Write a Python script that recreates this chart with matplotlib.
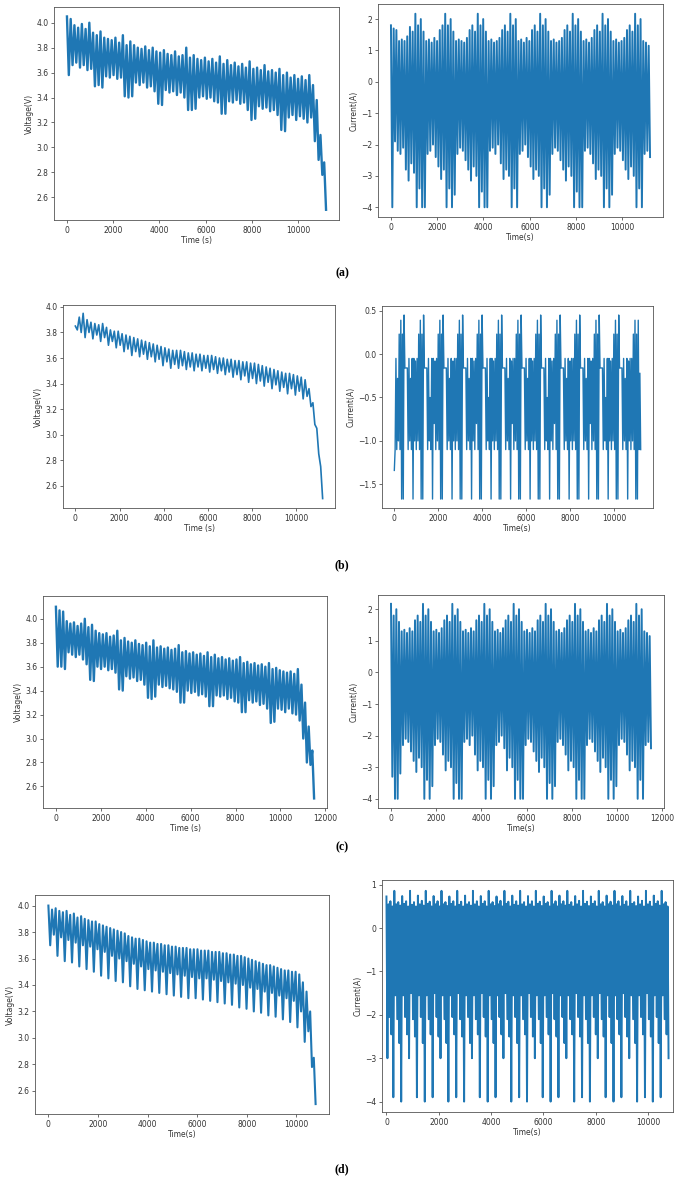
import numpy as np
import matplotlib
matplotlib.use("Agg")
import matplotlib.pyplot as plt

FIG_W, FIG_H = 689, 1181
BLUE = '#1f77b4'

# each trace is stored as upper / lower excursions in time order
# (a)
t_end_a = 11200
volt_a_hi = [4.05, 4.03, 3.98, 3.96, 3.99, 3.95, 4.00, 3.92, 3.90, 3.93,
             3.88, 3.87, 3.86, 3.88, 3.84, 3.90, 3.82, 3.85, 3.82, 3.80,
             3.79, 3.81, 3.78, 3.80, 3.77, 3.76, 3.78, 3.75, 3.74, 3.77,
             3.73, 3.74, 3.80, 3.72, 3.74, 3.71, 3.70, 3.72, 3.69, 3.71,
             3.68, 3.73, 3.67, 3.70, 3.66, 3.68, 3.65, 3.67, 3.64, 3.69,
             3.63, 3.64, 3.62, 3.66, 3.61, 3.62, 3.60, 3.63, 3.58, 3.60,
             3.56, 3.58, 3.55, 3.57, 3.54, 3.58, 3.50, 3.38, 3.10, 2.88]
volt_a_lo = [3.58, 3.66, 3.68, 3.64, 3.66, 3.62, 3.63, 3.49, 3.50, 3.48,
             3.57, 3.56, 3.58, 3.55, 3.56, 3.41, 3.40, 3.41, 3.52, 3.50,
             3.52, 3.48, 3.49, 3.45, 3.35, 3.34, 3.46, 3.44, 3.45, 3.42,
             3.44, 3.40, 3.30, 3.30, 3.31, 3.40, 3.41, 3.39, 3.40, 3.37,
             3.36, 3.27, 3.27, 3.37, 3.36, 3.38, 3.35, 3.36, 3.30, 3.22,
             3.23, 3.33, 3.31, 3.32, 3.29, 3.30, 3.26, 3.14, 3.13, 3.24,
             3.26, 3.22, 3.25, 3.23, 3.20, 3.24, 3.05, 2.90, 2.78, 2.50]
curr_a_hi = [1.80, 1.70, 1.65, 1.30, 1.35, 1.30, 1.45, 1.75, 1.60, 2.17,
             1.80, 2.00, 1.60, 1.30, 1.35, 1.25, 1.40, 1.30, 1.65, 1.80,
             2.17, 1.80, 2.00, 1.60, 1.30, 1.35, 1.30, 1.25, 1.40, 1.65,
             1.80, 1.60, 2.17, 1.80, 2.00, 1.60, 1.30, 1.35, 1.25, 1.30,
             1.40, 1.65, 1.80, 1.60, 2.17, 1.80, 2.00, 1.30, 1.35, 1.25,
             1.40, 1.30, 1.65, 1.80, 1.60, 2.17, 1.80, 2.00, 1.60, 1.30,
             1.35, 1.25, 1.30, 1.40, 1.65, 1.80, 1.60, 2.17, 1.80, 2.00,
             1.60, 1.30, 1.35, 1.25, 1.40, 1.65, 1.80, 1.60, 2.17, 1.80,
             2.00, 1.60, 1.30, 1.35, 1.25, 1.30, 1.40, 1.65, 1.80, 1.60,
             2.17, 1.80, 2.00, 1.30, 1.25, 1.15]
curr_a_lo = [-4.00, -1.90, -2.20, -2.30, -2.10, -2.80, -3.15, -2.60, -2.90, -4.00,
             -3.40, -4.00, -4.00, -2.30, -2.20, -2.00, -2.40, -2.70, -3.10, -2.80,
             -4.00, -3.40, -4.00, -3.60, -2.30, -2.10, -2.20, -2.50, -2.80, -3.15,
             -2.70, -3.00, -4.00, -3.50, -4.00, -4.00, -2.20, -2.10, -2.30, -2.00,
             -2.60, -3.10, -2.80, -3.00, -4.00, -3.40, -4.00, -2.30, -2.20, -2.00,
             -2.40, -2.70, -3.10, -2.80, -3.00, -4.00, -3.40, -4.00, -3.60, -2.30,
             -2.10, -2.20, -2.50, -2.80, -3.15, -2.70, -3.00, -4.00, -3.50, -4.00,
             -4.00, -2.20, -2.10, -2.30, -2.60, -3.10, -2.80, -3.00, -4.00, -3.40,
             -4.00, -3.60, -2.30, -2.10, -2.20, -2.50, -2.80, -3.10, -2.70, -3.00,
             -4.00, -3.40, -4.00, -2.30, -2.20, -2.40]

# (b)
t_end_b = 11200
volt_b_hi = [3.85, 3.92, 3.95, 3.90, 3.88, 3.87, 3.86, 3.87, 3.84, 3.82,
             3.81, 3.81, 3.79, 3.78, 3.77, 3.76, 3.75, 3.74, 3.73, 3.72,
             3.71, 3.70, 3.69, 3.68, 3.67, 3.66, 3.66, 3.66, 3.65, 3.64,
             3.64, 3.63, 3.63, 3.62, 3.62, 3.62, 3.61, 3.60, 3.60, 3.59,
             3.59, 3.58, 3.58, 3.57, 3.57, 3.56, 3.56, 3.55, 3.54, 3.53,
             3.52, 3.51, 3.50, 3.49, 3.48, 3.48, 3.47, 3.46, 3.45, 3.43,
             3.36, 3.25, 3.05, 2.75]
volt_b_lo = [3.82, 3.80, 3.76, 3.80, 3.75, 3.78, 3.73, 3.76, 3.70, 3.73,
             3.68, 3.70, 3.65, 3.67, 3.62, 3.65, 3.61, 3.63, 3.59, 3.61,
             3.57, 3.59, 3.54, 3.57, 3.52, 3.55, 3.52, 3.54, 3.51, 3.53,
             3.50, 3.53, 3.50, 3.52, 3.49, 3.51, 3.48, 3.50, 3.47, 3.49,
             3.45, 3.47, 3.43, 3.46, 3.41, 3.44, 3.40, 3.42, 3.38, 3.41,
             3.36, 3.39, 3.34, 3.37, 3.32, 3.36, 3.31, 3.34, 3.28, 3.30,
             3.22, 3.08, 2.85, 2.50]
curr_b_hi = [-1.34, -0.05, -0.28, 0.23, 0.39, 0.23,
             0.45, -0.16, -0.16, -0.05, -0.28, -0.05, -0.05, -0.08, -0.05, 0.23, 0.39, 0.23,
             0.45, -0.16, -0.16, -0.05, -0.50, -0.05, -0.05, -0.08, -0.05, 0.23, 0.39, 0.23,
             0.45, -0.16, -0.16, -0.05, -0.28, -0.05, -0.08, -0.05, -0.05, 0.23, 0.39, 0.23,
             0.45, -0.16, -0.16, -0.05, -0.28, -0.05, -0.05, -0.08, -0.05, 0.23, 0.39, 0.23,
             0.45, -0.16, -0.16, -0.05, -0.50, -0.05, -0.05, -0.08, -0.05, 0.23, 0.39, 0.23,
             0.45, -0.16, -0.16, -0.05, -0.28, -0.05, -0.08, -0.05, -0.05, 0.23, 0.39, 0.23,
             0.45, -0.16, -0.16, -0.05, -0.28, -0.05, -0.05, -0.08, -0.05, 0.23, 0.39, 0.23,
             0.45, -0.16, -0.16, -0.05, -0.50, -0.05, -0.05, -0.08, -0.05, 0.23, 0.39, 0.23,
             0.45, -0.16, -0.16, -0.05, -0.28, -0.05, -0.08, -0.05, -0.05, 0.23, 0.39, 0.23,
             0.45, -0.16, -0.16, -0.05, -0.28, -0.05, -0.05, -0.08, -0.05, 0.23, 0.39, 0.23,
             0.45, -0.16, -0.16, -0.05, -0.50, -0.05, -0.05, -0.08, -0.05, 0.23, 0.39, 0.23,
             0.45, -0.16, -0.16, -0.05, -0.28, -0.05, -0.08, -0.05, -0.05, 0.23, 0.39, 0.23,
             0.39, -0.22]
curr_b_lo = [-1.10, -1.10, -1.00, -1.10, -1.67, -1.67,
             -0.16, -0.16, -1.10, -1.00, -1.10, -1.67, -1.00, -1.10, -1.00, -1.10, -1.67, -1.67,
             -0.16, -0.16, -1.10, -1.00, -1.10, -1.67, -0.80, -1.10, -1.00, -1.10, -1.67, -1.67,
             -0.16, -0.16, -1.10, -1.00, -1.10, -1.67, -1.00, -1.10, -1.00, -1.10, -1.67, -1.67,
             -0.16, -0.16, -1.10, -1.00, -1.10, -1.67, -1.00, -1.10, -0.80, -1.10, -1.67, -1.67,
             -0.16, -0.16, -1.10, -1.00, -1.10, -1.67, -1.00, -1.10, -1.00, -1.10, -1.67, -1.67,
             -0.16, -0.16, -1.10, -1.00, -1.10, -1.67, -0.80, -1.10, -1.00, -1.10, -1.67, -1.67,
             -0.16, -0.16, -1.10, -1.00, -1.10, -1.67, -1.00, -1.10, -1.00, -1.10, -1.67, -1.67,
             -0.16, -0.16, -1.10, -1.00, -1.10, -1.67, -1.00, -1.10, -0.80, -1.10, -1.67, -1.67,
             -0.16, -0.16, -1.10, -1.00, -1.10, -1.67, -1.00, -1.10, -1.00, -1.10, -1.67, -1.67,
             -0.16, -0.16, -1.10, -1.00, -1.10, -1.67, -0.80, -1.10, -1.00, -1.10, -1.67, -1.67,
             -0.16, -0.16, -1.10, -1.00, -1.10, -1.67, -1.00, -1.10, -1.00, -1.10, -1.67, -1.67,
             -0.16, -0.16, -1.10, -1.00, -1.10, -1.67, -1.00, -1.10, -1.00, -1.10, -1.67, -1.67,
             -1.10, -1.10]

# (c)
t_end_c = 11500
volt_c_hi = [4.10, 4.07, 4.06, 3.98, 3.96, 3.97, 3.94, 3.96, 4.00, 3.93,
             3.95, 3.90, 3.88, 3.87, 3.88, 3.85, 3.86, 3.90, 3.82, 3.84,
             3.81, 3.80, 3.82, 3.79, 3.78, 3.80, 3.77, 3.82, 3.76, 3.77,
             3.75, 3.76, 3.74, 3.75, 3.78, 3.72, 3.73, 3.71, 3.72, 3.70,
             3.71, 3.69, 3.72, 3.68, 3.70, 3.67, 3.68, 3.66, 3.67, 3.65,
             3.66, 3.68, 3.63, 3.64, 3.62, 3.63, 3.61, 3.62, 3.60, 3.63,
             3.58, 3.59, 3.57, 3.56, 3.55, 3.56, 3.54, 3.58, 3.45, 3.30,
             3.10, 2.90]
volt_c_lo = [3.60, 3.60, 3.58, 3.72, 3.70, 3.68, 3.70, 3.66, 3.62, 3.49,
             3.48, 3.60, 3.58, 3.60, 3.57, 3.58, 3.55, 3.41, 3.40, 3.52,
             3.50, 3.51, 3.48, 3.49, 3.45, 3.34, 3.33, 3.35, 3.45, 3.43,
             3.44, 3.42, 3.41, 3.39, 3.30, 3.30, 3.40, 3.38, 3.39, 3.36,
             3.37, 3.35, 3.27, 3.27, 3.36, 3.35, 3.36, 3.33, 3.34, 3.31,
             3.30, 3.22, 3.22, 3.32, 3.30, 3.31, 3.28, 3.29, 3.25, 3.13,
             3.14, 3.25, 3.24, 3.22, 3.25, 3.21, 3.20, 3.15, 3.00, 2.80,
             2.78, 2.50]
curr_c_hi = [2.17, 1.80, 2.00, 1.60, 1.30, 1.35, 1.25, 1.40, 1.30, 1.65,
             1.80, 1.60, 2.17, 1.80, 2.00, 1.60, 1.30, 1.35, 1.25, 1.40,
             1.65, 1.80, 1.60, 2.17, 1.80, 2.00, 1.60, 1.30, 1.35, 1.25,
             1.40, 1.30, 1.65, 1.80, 1.60, 2.17, 1.80, 2.00, 1.60, 1.30,
             1.35, 1.25, 1.40, 1.65, 1.80, 1.60, 2.17, 1.80, 2.00, 1.60,
             1.30, 1.35, 1.25, 1.40, 1.30, 1.65, 1.80, 1.60, 2.17, 1.80,
             2.00, 1.60, 1.30, 1.35, 1.25, 1.40, 1.65, 1.80, 1.60, 2.17,
             1.80, 2.00, 1.60, 1.30, 1.35, 1.25, 1.40, 1.30, 1.65, 1.80,
             1.60, 2.17, 1.80, 2.00, 1.60, 1.30, 1.35, 1.25, 1.40, 1.65,
             1.80, 1.60, 2.17, 1.80, 2.00, 1.30, 1.25, 1.15]
curr_c_lo = [-3.30, -4.00, -4.00, -3.20, -2.30, -2.10, -2.20, -2.50, -2.80, -3.15,
             -2.70, -3.00, -4.00, -3.40, -4.00, -3.60, -2.30, -2.10, -2.20, -2.60,
             -3.10, -2.80, -3.00, -4.00, -3.50, -4.00, -4.00, -2.20, -2.10, -2.30,
             -2.00, -2.60, -3.10, -2.80, -3.00, -4.00, -3.40, -4.00, -3.60, -2.30,
             -2.20, -2.00, -2.40, -3.10, -2.70, -3.00, -4.00, -3.40, -4.00, -4.00,
             -2.30, -2.10, -2.20, -2.50, -2.80, -3.15, -2.70, -3.00, -4.00, -3.50,
             -4.00, -3.60, -2.20, -2.10, -2.30, -2.60, -3.10, -2.80, -3.00, -4.00,
             -3.40, -4.00, -4.00, -2.30, -2.10, -2.20, -2.50, -2.80, -3.15, -2.70,
             -3.00, -4.00, -3.40, -4.00, -3.60, -2.30, -2.10, -2.20, -2.60, -3.10,
             -2.80, -3.00, -4.00, -3.40, -4.00, -2.30, -2.20, -2.40]

# (d)
t_end_d = 10780
volt_d_hi = [4.00, 3.97, 3.98, 3.96, 3.95, 3.96, 3.93, 3.94, 3.91, 3.92,
             3.90, 3.89, 3.88, 3.88, 3.86, 3.85, 3.84, 3.83, 3.82, 3.81,
             3.80, 3.79, 3.77, 3.76, 3.75, 3.75, 3.74, 3.73, 3.72, 3.72,
             3.71, 3.71, 3.70, 3.70, 3.69, 3.69, 3.68, 3.68, 3.68, 3.67,
             3.67, 3.67, 3.66, 3.66, 3.66, 3.65, 3.65, 3.65, 3.64, 3.64,
             3.63, 3.63, 3.62, 3.62, 3.61, 3.60, 3.59, 3.58, 3.57, 3.56,
             3.55, 3.55, 3.54, 3.53, 3.52, 3.51, 3.51, 3.50, 3.50, 3.48,
             3.42, 3.35, 3.20, 2.85]
volt_d_lo = [3.70, 3.78, 3.62, 3.76, 3.58, 3.74, 3.57, 3.72, 3.54, 3.70,
             3.52, 3.69, 3.50, 3.67, 3.47, 3.65, 3.45, 3.62, 3.43, 3.60,
             3.42, 3.58, 3.39, 3.56, 3.37, 3.54, 3.36, 3.52, 3.35, 3.51,
             3.34, 3.50, 3.33, 3.49, 3.32, 3.48, 3.31, 3.47, 3.30, 3.46,
             3.30, 3.45, 3.29, 3.45, 3.28, 3.44, 3.27, 3.43, 3.26, 3.42,
             3.25, 3.41, 3.23, 3.40, 3.22, 3.38, 3.20, 3.37, 3.19, 3.35,
             3.17, 3.34, 3.16, 3.32, 3.14, 3.30, 3.12, 3.28, 3.08, 3.20,
             2.97, 3.05, 2.78, 2.50]
curr_d_hi = [0.73, 0.55, 0.62, 0.50, 0.86, 0.55, 0.60, 0.52,
             0.74, 0.56, 0.62, 0.50, 0.86, 0.54, 0.60, 0.50,
             0.75, 0.55, 0.63, 0.52, 0.86, 0.56, 0.61, 0.50,
             0.74, 0.55, 0.62, 0.50, 0.86, 0.55, 0.60, 0.51,
             0.73, 0.56, 0.62, 0.50, 0.86, 0.54, 0.61, 0.50,
             0.75, 0.55, 0.60, 0.52, 0.86, 0.55, 0.62, 0.50,
             0.74, 0.56, 0.62, 0.50, 0.86, 0.55, 0.60, 0.51,
             0.73, 0.55, 0.63, 0.50, 0.86, 0.56, 0.61, 0.50,
             0.75, 0.54, 0.62, 0.52, 0.86, 0.55, 0.60, 0.50,
             0.74, 0.55, 0.62, 0.50, 0.86, 0.56, 0.61, 0.51,
             0.73, 0.56, 0.60, 0.50, 0.86, 0.55, 0.62, 0.50,
             0.75, 0.55, 0.62, 0.52, 0.86, 0.54, 0.60, 0.50,
             0.74, 0.55, 0.63, 0.50, 0.86, 0.56, 0.61, 0.51,
             0.73, 0.56, 0.62, 0.50, 0.86, 0.55, 0.60, 0.50,
             0.75, 0.55, 0.61, 0.52, 0.86, 0.55, 0.62, 0.50,
             0.74, 0.54, 0.62, 0.50, 0.86, 0.56, 0.60, 0.51,
             0.73, 0.55, 0.63, 0.50, 0.86, 0.55, 0.61, 0.50,
             0.75, 0.56, 0.62, 0.52, 0.86, 0.55, 0.60, 0.50]
curr_d_lo = [-3.00, -2.05, -2.45, -3.90, -1.55, -2.10, -2.65, -4.00,
             -1.55, -2.05, -2.45, -3.00, -1.50, -2.10, -2.50, -3.90,
             -1.55, -2.05, -2.65, -4.00, -1.55, -2.10, -2.45, -3.90,
             -1.50, -2.05, -2.50, -3.00, -1.55, -2.10, -2.65, -4.00,
             -1.55, -2.05, -2.45, -3.90, -1.50, -2.10, -2.50, -4.00,
             -1.55, -2.05, -2.65, -3.00, -1.55, -2.10, -2.45, -3.90,
             -1.50, -2.05, -2.50, -4.00, -1.55, -2.10, -2.65, -3.90,
             -1.55, -2.05, -2.45, -3.00, -1.50, -2.10, -2.50, -4.00,
             -1.55, -2.05, -2.65, -3.90, -1.55, -2.10, -2.45, -4.00,
             -1.50, -2.05, -2.50, -3.00, -1.55, -2.10, -2.65, -3.90,
             -1.55, -2.05, -2.45, -4.00, -1.50, -2.10, -2.50, -3.90,
             -1.55, -2.05, -2.65, -3.00, -1.55, -2.10, -2.45, -4.00,
             -1.50, -2.05, -2.50, -3.90, -1.55, -2.10, -2.65, -4.00,
             -1.55, -2.05, -2.45, -3.00, -1.50, -2.10, -2.50, -3.90,
             -1.55, -2.05, -2.65, -4.00, -1.55, -2.10, -2.45, -3.90,
             -1.50, -2.05, -2.50, -3.00, -1.55, -2.10, -2.65, -4.00,
             -1.55, -2.05, -2.45, -3.90, -1.50, -2.10, -2.50, -4.00,
             -1.55, -2.05, -2.65, -3.90, -1.55, -2.10, -2.45, -3.00]

volt_ticks = [2.6, 2.8, 3.0, 3.2, 3.4, 3.6, 3.8, 4.0]
ticks_10k = [0, 2000, 4000, 6000, 8000, 10000]
ticks_12k = [0, 2000, 4000, 6000, 8000, 10000, 12000]


def box(left, right, top, bottom):
    return [left / FIG_W, 1 - bottom / FIG_H, (right - left) / FIG_W, (bottom - top) / FIG_H]


def panel(fig, rect, t_end, hi, lo, xlabel, ylabel, xlim, ylim, xticks, yticks, lw=1.4):
    ax = fig.add_axes(rect)
    y = np.column_stack([hi, lo]).ravel()
    t = np.linspace(0, t_end, y.size)
    ax.plot(t, y, color=BLUE, lw=lw)
    ax.set_xlim(*xlim)
    ax.set_ylim(*ylim)
    ax.set_xticks(xticks)
    ax.set_yticks(yticks)
    ax.tick_params(labelsize=5.5, length=2.5, width=0.5, pad=1.5, colors='#333333')
    for s in ax.spines.values():
        s.set_linewidth(0.6)
        s.set_color('#555555')
    ax.set_xlabel(xlabel, fontsize=5.5, labelpad=1, color='#333333')
    ax.set_ylabel(ylabel, fontsize=5.5, labelpad=2, color='#333333')
    return ax


fig = plt.figure(figsize=(FIG_W / 100, FIG_H / 100), dpi=100)

panel(fig, box(54, 339, 7, 220), t_end_a, volt_a_hi, volt_a_lo, "Time (s)", "Voltage(V)",
      (-560, 11760), (2.418, 4.126), ticks_10k, volt_ticks, lw=1.7)
panel(fig, box(378, 663, 4, 217), t_end_a, curr_a_hi, curr_a_lo, "Time(s)", "Current(A)",
      (-560, 11760), (-4.31, 2.48), ticks_10k, [-4, -3, -2, -1, 0, 1, 2])

panel(fig, box(63, 335, 305, 508), t_end_b, volt_b_hi, volt_b_lo, "Time (s)", "Voltage(V)",
      (-560, 11760), (2.426, 4.015), ticks_10k, volt_ticks, lw=1.2)
panel(fig, box(382, 653, 306, 508), t_end_b, curr_b_hi, curr_b_lo, "Time(s)", "Current(A)",
      (-560, 11760), (-1.773, 0.554), ticks_10k, [-1.5, -1.0, -0.5, 0.0, 0.5], lw=1.0)

panel(fig, box(43, 327, 596, 808), t_end_c, volt_c_hi, volt_c_lo, "Time (s)", "Voltage(V)",
      (-575, 12075), (2.42, 4.19), ticks_12k, volt_ticks, lw=1.7)
panel(fig, box(378, 664, 595, 808), t_end_c, curr_c_hi, curr_c_lo, "Time(s)", "Current(A)",
      (-575, 12075), (-4.29, 2.45), ticks_12k, [-4, -3, -2, -1, 0, 1, 2])

panel(fig, box(35, 329, 895, 1114), t_end_d, volt_d_hi, volt_d_lo, "Time(s)", "Voltage(V)",
      (-540, 11320), (2.425, 4.08), ticks_10k, volt_ticks, lw=1.5)
panel(fig, box(382, 673, 880, 1112), t_end_d, curr_d_hi, curr_d_lo, "Time(s)", "Current(A)",
      (-170, 10950), (-4.24, 1.11), ticks_10k, [-4, -3, -2, -1, 0, 1])

for lab, ypix in [("(a)", 273), ("(b)", 565), ("(c)", 847), ("(d)", 1169)]:
    fig.text(342 / FIG_W, 1 - ypix / FIG_H, lab, ha='center', va='center',
             fontsize=8.5, fontweight='bold', family='Liberation Serif')

fig.savefig("out.png", dpi=100)
